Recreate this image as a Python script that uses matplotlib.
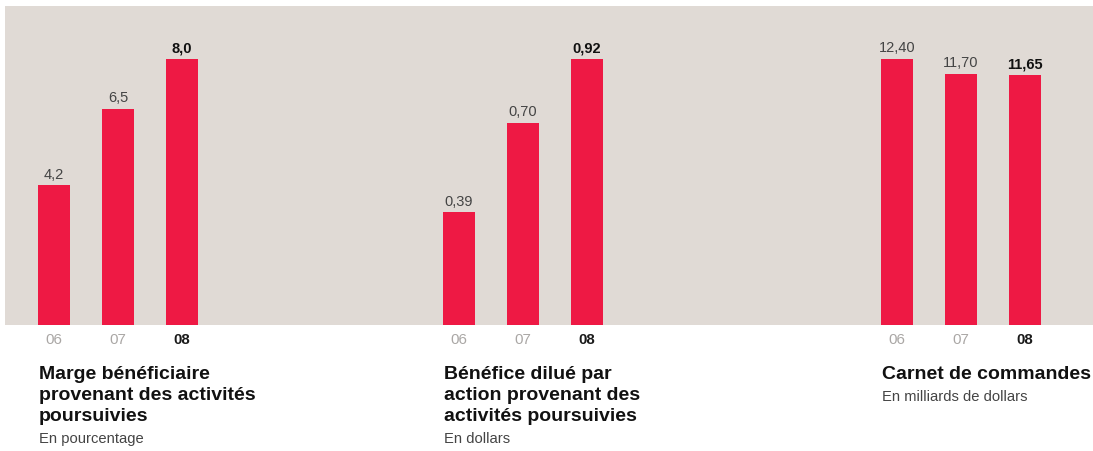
import matplotlib
matplotlib.use("Agg")
import matplotlib.pyplot as plt

plt.rcParams['font.family'] = ['Liberation Sans', 'DejaVu Sans']

# donnees
annees = ["06", "07", "08"]
marge = [4.2, 6.5, 8.0]
benefice = [0.39, 0.70, 0.92]
carnet = [12.40, 11.70, 11.65]
etiquettes_marge = ["4,2", "6,5", "8,0"]
etiquettes_benefice = ["0,39", "0,70", "0,92"]
etiquettes_carnet = ["12,40", "11,70", "11,65"]
titres = [
    ["Marge bénéficiaire", "provenant des activités", "poursuivies"],
    ["Bénéfice dilué par", "action provenant des", "activités poursuivies"],
    ["Carnet de commandes"],
]
sous_titres = ["En pourcentage", "En dollars", "En milliards de dollars"]

W, H = 1093, 452
fond = "#e0dad5"
rouge = "#ee1944"

fig = plt.figure(figsize=(W / 100, H / 100), dpi=100)

# panneau beige
bg = fig.add_axes([5 / W, (H - 326) / H, (W - 5) / W, 319 / H])
bg.set_facecolor(fond)
bg.set_xticks([])
bg.set_yticks([])
for s in bg.spines.values():
    s.set_visible(False)

groupes = [
    (marge, etiquettes_marge, 6),
    (benefice, etiquettes_benefice, 411),
    (carnet, etiquettes_carnet, 849),
]

for i, (valeurs, etiquettes, gauche) in enumerate(groupes):
    ax = fig.add_axes([gauche / W, (H - 326) / H, 224 / W, 319 / H])
    ax.patch.set_visible(False)
    x = list(range(len(valeurs)))
    ax.bar(x, valeurs, width=0.5, color=rouge)
    ax.set_xlim(-0.75, 2.75)
    ax.set_ylim(0, max(valeurs) * 319 / 266)
    for s in ax.spines.values():
        s.set_visible(False)
    ax.set_yticks([])
    ax.set_xticks(x)
    ax.set_xticklabels(annees, fontsize=10.8)
    ax.tick_params(axis="x", length=0, pad=5)
    for j, lab in enumerate(ax.get_xticklabels()):
        if j == len(valeurs) - 1:
            lab.set_color("#1a1a1a")
            lab.set_fontweight("bold")
        else:
            lab.set_color("#aaa7a5")
    for j, (v, t) in enumerate(zip(valeurs, etiquettes)):
        dernier = j == len(valeurs) - 1
        ax.annotate(t, (j, v), xytext=(0, 5.5), textcoords="offset points",
                    ha="center", va="baseline", fontsize=10.5,
                    color="#111111" if dernier else "#444444",
                    fontweight="bold" if dernier else "normal")

    # titres sous le graphique
    xt = (gauche + 33) / W
    base = 379
    for k, ligne in enumerate(titres[i]):
        fig.text(xt, 1 - (base + 21 * k) / H, ligne, fontsize=14,
                 fontweight="bold", color="#111111", va="baseline", ha="left")
    yb = base + 21 * (len(titres[i]) - 1) + 22
    fig.text(xt, 1 - yb / H, sous_titres[i], fontsize=10.6, color="#444444",
             va="baseline", ha="left")

fig.savefig("out.png", dpi=100, facecolor="white")
